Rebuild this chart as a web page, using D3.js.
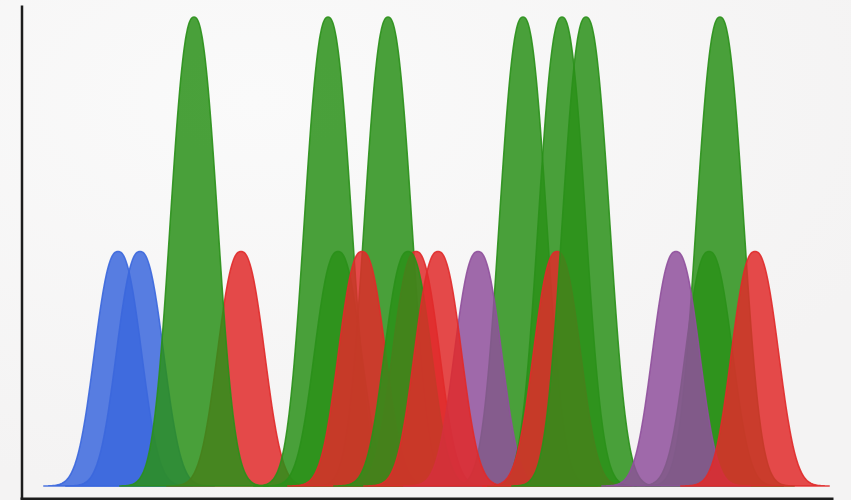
<!DOCTYPE html>
<html>
<head>
<meta charset="utf-8">
<script src="https://cdn.jsdelivr.net/npm/d3@7"></script>
<style>
  html, body { margin: 0; padding: 0; background: #f5f4f4; }
  svg { display: block; }
</style>
</head>
<body>
<svg id="chart" width="851" height="500"></svg>
<script>
// Peak data (draw order), centers in scan units, heights in relative signal units
const peakCenters = [96, 118, 219, 172, 306, 316, 366, 340, 394, 386, 501, 456, 416, 540, 535, 564, 687, 698, 654, 733];
const peakHeights = [1, 1, 1, 2, 2, 1, 2, 1, 1, 1, 2, 1, 1, 2, 1, 2, 1, 2, 1, 1];
const peakBases   = ["C", "C", "T", "A", "A", "A", "A", "T", "T", "A", "A", "G", "T", "A", "T", "A", "A", "A", "G", "T"];
const baseNames   = ["A", "C", "G", "T"];
const baseColors  = ["#2a9019", "#3b67dd", "#8f509c", "#e02a2a"];
const peakWidth = 30;     // half-width parameter in scan units
const peakShape = 2.4;    // peak exponent
const peakSpan = 74;      // drawn extent either side of a peak

const W = 851, H = 500;
const svg = d3.select("#chart");

// background
const defs = svg.append("defs");
const grad = defs.append("radialGradient").attr("id", "bg")
  .attr("cx", "30%").attr("cy", "20%").attr("r", "80%");
grad.append("stop").attr("offset", "0%").attr("stop-color", "#fafafa");
grad.append("stop").attr("offset", "100%").attr("stop-color", "#f4f3f3");
svg.append("rect").attr("width", W).attr("height", H).attr("fill", "url(#bg)");

const x = d3.scaleLinear().domain([0, 811]).range([22, 833]);
const y = d3.scaleLinear().domain([0, 2]).range([486, 17]);
const color = d3.scaleOrdinal().domain(baseNames).range(baseColors);

const peaks = peakCenters.map((c, i) => ({ c, h: peakHeights[i], b: peakBases[i] }));

const area = d3.area()
  .x(d => x(d[0]))
  .y0(y(0))
  .y1(d => y(d[1]))
  .curve(d3.curveMonotoneX);

const g = svg.append("g");
peaks.forEach(p => {
  const pts = d3.range(p.c - peakSpan, p.c + peakSpan + 0.01, 1).map(v => {
    const t = Math.abs(v - p.c) / peakWidth;
    return [v, p.h * Math.exp(-Math.pow(t, peakShape))];
  });
  g.append("path")
    .datum(pts)
    .attr("d", area)
    .attr("fill", color(p.b))
    .attr("fill-opacity", 0.85)
    .attr("stroke", color(p.b))
    .attr("stroke-width", 1.5)
    .attr("stroke-opacity", 0.9);
});

// axes (domain lines only)
const yAxisScale = d3.scaleLinear().domain([0, 1]).range([499, 5]);
svg.append("g")
  .attr("transform", "translate(21.5,0)")
  .call(d3.axisLeft(yAxisScale).tickValues([]).tickSizeOuter(0))
  .call(s => s.select(".domain").attr("stroke", "#1c1c1c").attr("stroke-width", 2.5));

svg.append("g")
  .attr("transform", "translate(0,498.5)")
  .call(d3.axisBottom(d3.scaleLinear().domain([0, 1]).range([20, 833])).tickValues([]).tickSizeOuter(0))
  .call(s => s.select(".domain").attr("stroke", "#1c1c1c").attr("stroke-width", 3));
</script>
</body>
</html>
